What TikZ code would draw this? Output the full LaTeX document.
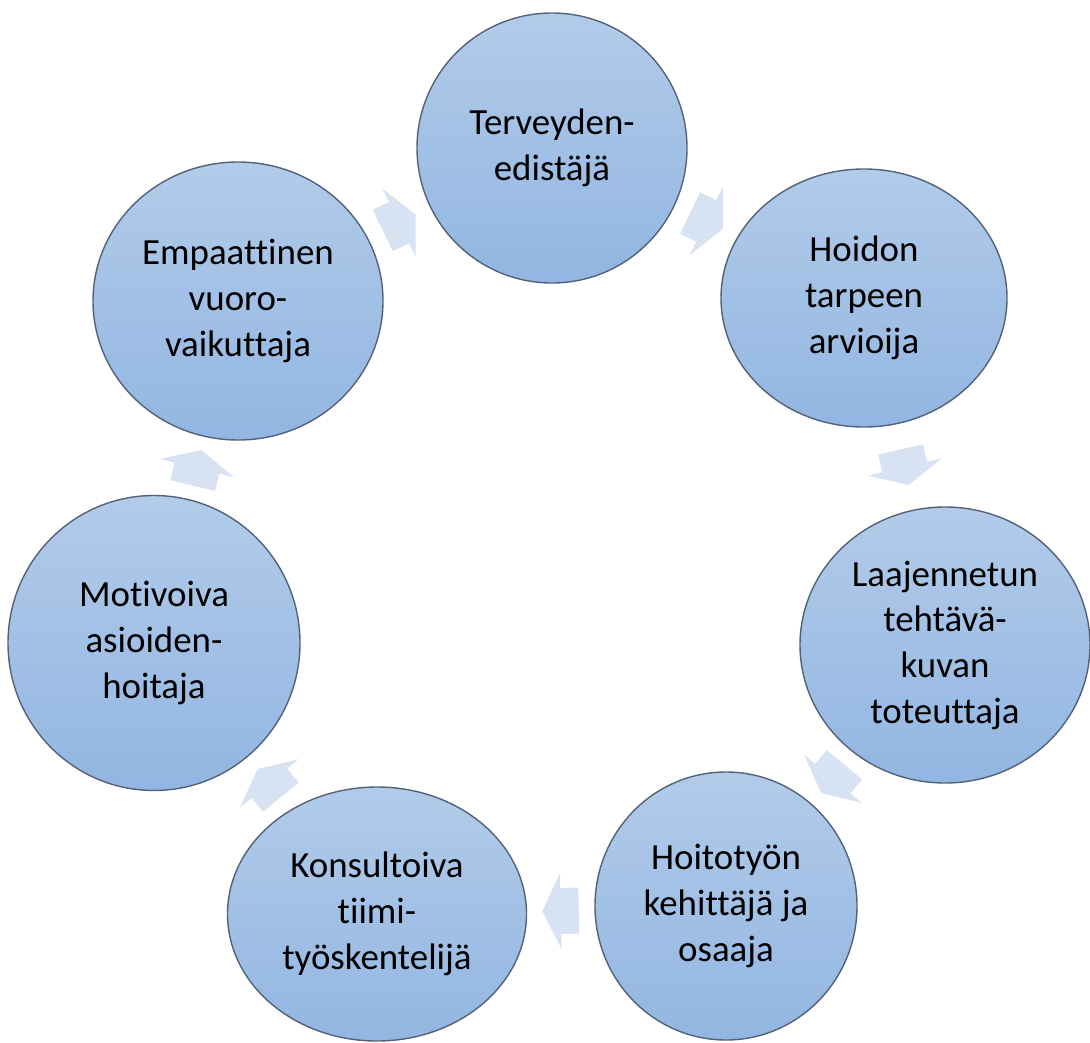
\documentclass[tikz,border=0pt]{standalone}
\usepackage{fontspec}
\setmainfont[Ligatures=NoCommon]{Carlito}
\usepackage{tikz}
\usetikzlibrary{shapes.geometric}
\usetikzlibrary{calc}
\definecolor{ringtop}{RGB}{178,203,233}
\definecolor{ringbottom}{RGB}{146,182,226}
\definecolor{ringline}{RGB}{84,98,120}
\definecolor{arrowfill}{RGB}{215,227,243}

\tikzset{
  role/.style={ellipse, draw=ringline, line width=0.8pt, top color=ringtop, bottom color=ringbottom, inner sep=0pt},
  rolelabel/.style={align=center, text=black, font=\fontsize{21}{26}\selectfont},
  pics/turnarrow/.style={code={
    \fill[arrowfill] (-0.36,0.46) -- (0,0.46) -- (0,0.76) -- (0.37,0) -- (0,-0.76) -- (0,-0.46) -- (-0.36,-0.46) -- cycle;
  }}
}

\begin{document}
\begin{tikzpicture}
\useasboundingbox (0,0) rectangle (21.8,-20.84);
\node[role, minimum width=5.40cm, minimum height=5.40cm, label={[rolelabel]center:Terveyden-\\edistäjä}] (c1) at (11.04,-2.96) {};
\node[role, minimum width=5.72cm, minimum height=5.16cm, label={[rolelabel]center:Hoidon\\tarpeen\\arvioija}] (c2) at (17.28,-5.96) {};
\node[role, minimum width=5.80cm, minimum height=5.52cm, label={[rolelabel]center:Laajennetun\\tehtävä-\\kuvan\\toteuttaja}] (c3) at (18.90,-12.90) {};
\node[role, minimum width=5.24cm, minimum height=5.36cm, label={[rolelabel]center:Hoitotyön\\kehittäjä ja\\osaaja}] (c4) at (14.52,-18.12) {};
\node[role, minimum width=5.98cm, minimum height=5.08cm, label={[rolelabel]center:Konsultoiva\\tiimi-\\työskentelijä}] (c5) at (7.54,-18.28) {};
\node[role, minimum width=5.84cm, minimum height=5.90cm, label={[rolelabel]center:Motivoiva\\asioiden-\\hoitaja}] (c6) at (3.08,-12.86) {};
\node[role, minimum width=5.80cm, minimum height=5.56cm, label={[rolelabel]center:Empaattinen\\vuoro-\\vaikuttaja}] (c7) at (4.76,-6.02) {};
% block arrows, centred in the gap between two neighbours
\foreach \a/\b/\ang in {c1/c2/-25.7, c2/c3/-76.9, c3/c4/-130.0, c4/c5/-178.7, c5/c6/129.5, c6/c7/76.2, c7/c1/26.0}
  {
  \pgfmathsetmacro\opp{\ang+180}
  \path ($(\a.\ang)!0.5!(\b.\opp)$) pic[rotate=\ang] {turnarrow};
  }
\end{tikzpicture}
\end{document}
